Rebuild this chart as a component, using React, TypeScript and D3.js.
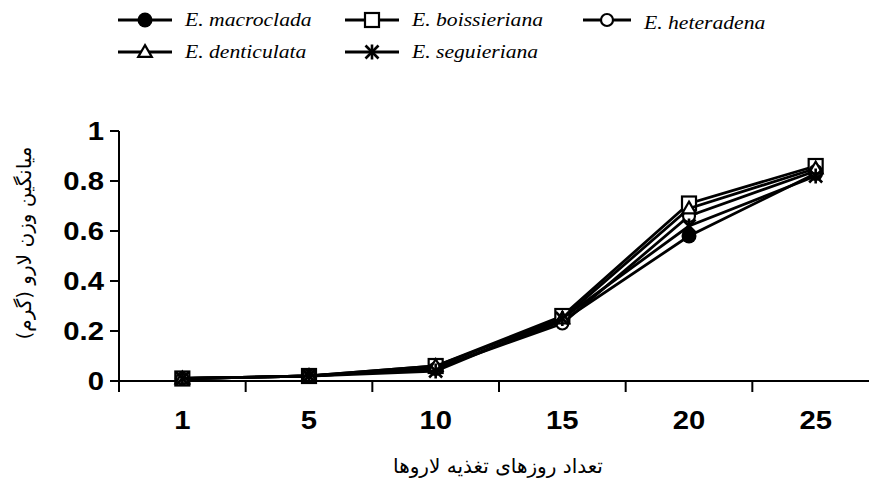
import React from "react";
import * as d3 from "d3";

const days = ["1", "5", "10", "15", "20", "25"];
const macroclada = [0.01, 0.02, 0.05, 0.24, 0.58, 0.83];
const boissieriana = [0.01, 0.02, 0.06, 0.26, 0.71, 0.86];
const heteradena = [0.01, 0.02, 0.05, 0.23, 0.66, 0.84];
const denticulata = [0.01, 0.02, 0.06, 0.25, 0.69, 0.85];
const seguieriana = [0.01, 0.02, 0.04, 0.25, 0.62, 0.82];
const yTicks = [0, 0.2, 0.4, 0.6, 0.8, 1];

const series = [
  { name: "E. macroclada", values: macroclada, marker: "filledCircle" },
  { name: "E. boissieriana", values: boissieriana, marker: "square" },
  { name: "E. heteradena", values: heteradena, marker: "circle" },
  { name: "E. denticulata", values: denticulata, marker: "triangle" },
  { name: "E. seguieriana", values: seguieriana, marker: "star" },
];

const W = 869, H = 488;
const SX = 1.17; // text in the original is stretched sideways
const x = d3.scaleBand().domain(days).range([119, 879]).padding(0);
const y = d3.scaleLinear().domain([0, 1]).range([381, 131]);
const line = d3.line<number>()
  .x((_, i) => (x(days[i]) ?? 0) + x.bandwidth() / 2)
  .y(d => y(d));

const Marker = ({ kind, cx, cy }: { kind: string; cx: number; cy: number }) => {
  const sw = 2.2;
  if (kind === "filledCircle") return <circle cx={cx} cy={cy} r={7.5} fill="#000" />;
  if (kind === "circle") return <circle cx={cx} cy={cy} r={6} fill="#fff" stroke="#000" strokeWidth={sw} />;
  if (kind === "square") return <rect x={cx - 7} y={cy - 7} width={14} height={14} fill="#fff" stroke="#000" strokeWidth={sw} />;
  if (kind === "triangle") {
    const tri = d3.symbol().type(d3.symbolTriangle).size(80)();
    return <path d={tri ?? ""} transform={`translate(${cx},${cy + 1})`} fill="#fff" stroke="#000" strokeWidth={sw} />;
  }
  const s = 6.5;
  return (
    <g stroke="#000" strokeWidth={2.6}>
      <line x1={cx - s} y1={cy - s} x2={cx + s} y2={cy + s} />
      <line x1={cx - s} y1={cy + s} x2={cx + s} y2={cy - s} />
      <line x1={cx} y1={cy - s - 1} x2={cx} y2={cy + s + 1} />
    </g>
  );
};

const legendPos = [
  { lx: 118, ty: 20, dy: 0 },
  { lx: 345, ty: 20, dy: 0 },
  { lx: 583, ty: 20, dy: 3 },
  { lx: 118, ty: 52, dy: 0 },
  { lx: 345, ty: 52, dy: 0 },
];

export default function App() {
  return (
    <div style={{ position: "fixed", left: 0, top: 0 }}>
      <svg width={W} height={H} style={{ display: "block", background: "#fff" }}>
        {/* legend */}
        {series.map((s, i) => {
          const p = legendPos[i];
          const len = i === 2 ? 48 : 54;
          return (
            <g key={s.name}>
              <line x1={p.lx} x2={p.lx + len} y1={p.ty} y2={p.ty} stroke="#000" strokeWidth={3} />
              <Marker kind={s.marker} cx={p.lx + len / 2} cy={p.ty} />
              <text transform={`translate(${p.lx + len + 13},${p.ty + p.dy}) scale(${SX},1)`} dy="0.35em"
                fontFamily="Liberation Serif" fontStyle="italic" fontSize={18.5}>{s.name}</text>
            </g>
          );
        })}

        {/* y axis */}
        <line x1={119} x2={119} y1={y(1)} y2={y(0)} stroke="#000" strokeWidth={2} />
        {yTicks.map(t => (
          <g key={t}>
            <line x1={110} x2={119} y1={y(t)} y2={y(t)} stroke="#000" strokeWidth={2} />
            <text transform={`translate(104,${y(t)}) scale(${SX},1)`} dy="0.36em" textAnchor="end"
              fontFamily="Liberation Sans" fontWeight="bold" fontSize={25}>{t}</text>
          </g>
        ))}

        {/* x axis */}
        <line x1={110} x2={879} y1={y(0)} y2={y(0)} stroke="#000" strokeWidth={2} />
        {days.map(d => (
          <g key={d}>
            <line x1={x(d) ?? 0} x2={x(d) ?? 0} y1={y(0)} y2={y(0) + 11} stroke="#000" strokeWidth={2} />
            <text transform={`translate(${(x(d) ?? 0) + x.bandwidth() / 2},420) scale(${SX},1)`} dy="0.36em" textAnchor="middle"
              fontFamily="Liberation Sans" fontWeight="bold" fontSize={25}>{d}</text>
          </g>
        ))}

        {/* series */}
        {series.map(s => (
          <g key={s.name}>
            <path d={line(s.values) ?? ""} fill="none" stroke="#000" strokeWidth={2.8} />
            {s.values.map((v, i) => (
              <Marker key={i} kind={s.marker} cx={(x(days[i]) ?? 0) + x.bandwidth() / 2} cy={y(v)} />
            ))}
          </g>
        ))}

        {/* axis titles */}
        <text x={498} y={466} dy="0.35em" textAnchor="middle" fontFamily="DejaVu Sans" fontSize={20} direction="rtl">تعداد روزهای تغذیه لاروها</text>
        <text transform="translate(24,243) rotate(-90)" dy="0.35em" textAnchor="middle" fontFamily="DejaVu Sans" fontSize={20} direction="rtl">میانگین وزن لارو (گرم)</text>
      </svg>
    </div>
  );
}
